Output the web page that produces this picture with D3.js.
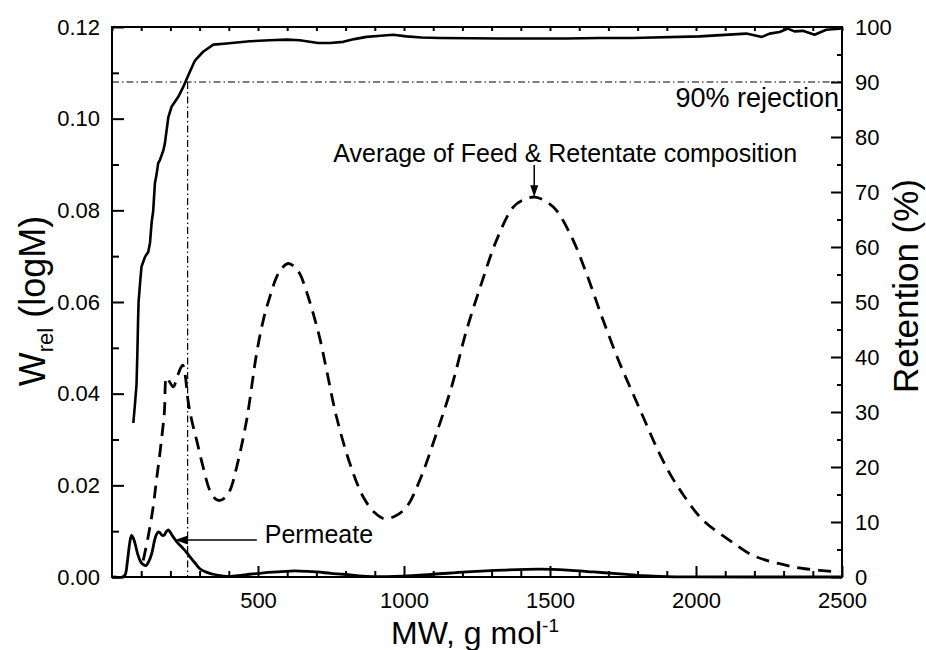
<!DOCTYPE html>
<html>
<head>
<meta charset="utf-8">
<script src="https://cdn.jsdelivr.net/npm/d3@7"></script>
<style>
  html, body { margin: 0; padding: 0; background: #fff; }
  svg { display: block; font-family: "Liberation Sans", Arial, sans-serif; }
</style>
</head>
<body>
<svg id="chart" width="926" height="650"></svg>
<script>
// ---------------- DATA ----------------
const xTickValues = [500, 1000, 1500, 2000, 2500];
const leftTickValues = [0, 0.02, 0.04, 0.06, 0.08, 0.10, 0.12];
const rightTickValues = [0, 10, 20, 30, 40, 50, 60, 70, 80, 90, 100];

// Retention (%) - solid, right axis
const retentionMW = [73, 78, 84, 87, 89, 91, 97, 101, 113, 124, 130, 136, 141, 147, 153, 158, 164, 176, 181, 193, 204, 227, 244, 261, 284, 312, 347, 392, 472, 540, 598, 643, 706, 746, 792, 830, 872, 920, 963, 1008, 1060, 1122, 1328, 1556, 1670, 1783, 2012, 2172, 2226, 2252, 2286, 2315, 2337, 2366, 2406, 2446, 2491, 2500];
const retentionPct = [28, 31, 35, 41, 46, 50, 54, 56.4, 58.2, 59.1, 60.7, 64.6, 66.5, 71.6, 73.3, 75.2, 75.8, 77.6, 78.8, 83.6, 85.5, 87.3, 89.1, 91.2, 93.9, 95.5, 96.8, 97.0, 97.4, 97.6, 97.7, 97.6, 97.1, 97.1, 97.3, 97.8, 98.2, 98.4, 98.6, 98.3, 98.1, 98.0, 97.9, 97.9, 98.0, 98.0, 98.3, 98.8, 98.2, 98.8, 99.1, 99.7, 99.2, 99.3, 98.6, 99.5, 99.7, 99.8];

// Average of Feed & Retentate composition - dashed, left axis
const averageMW = [107, 125, 141, 152, 164, 179, 187, 198, 210, 225, 242, 262, 273, 290, 312, 335, 355, 370, 385, 404, 427, 461, 495, 518, 540, 564, 585, 604, 625, 643, 665, 689, 712, 735, 769, 815, 860, 900, 934, 970, 1009, 1054, 1111, 1163, 1214, 1265, 1317, 1374, 1410, 1448, 1485, 1522, 1579, 1625, 1682, 1739, 1784, 1824, 1864, 1910, 1961, 2024, 2115, 2195, 2286, 2372, 2491];
const averageW = [0.0036, 0.0092, 0.0153, 0.021, 0.027, 0.0357, 0.0436, 0.0425, 0.0415, 0.044, 0.0462, 0.0378, 0.0342, 0.0298, 0.024, 0.0189, 0.0170, 0.0167, 0.0172, 0.0189, 0.024, 0.0342, 0.0487, 0.056, 0.061, 0.0655, 0.0676, 0.0684, 0.0677, 0.0662, 0.0625, 0.0575, 0.052, 0.0451, 0.0349, 0.0247, 0.0175, 0.0140, 0.0127, 0.0133, 0.0153, 0.0211, 0.0313, 0.0415, 0.0538, 0.064, 0.0735, 0.0807, 0.0823, 0.0829, 0.0820, 0.08, 0.0735, 0.0662, 0.0560, 0.0466, 0.04, 0.0342, 0.0284, 0.0226, 0.0175, 0.0124, 0.008, 0.0047, 0.0029, 0.0018, 0.0011];

// Permeate - solid, left axis
const permeateMW = [0, 35, 45, 52, 58, 63, 67, 73, 79, 88, 96, 105, 116, 126, 136, 144, 151, 158, 164, 171, 178, 186, 193, 200, 210, 227, 244, 255, 267, 285, 301, 325, 347, 370, 392, 430, 472, 520, 564, 610, 643, 700, 750, 792, 840, 872, 940, 996, 1100, 1214, 1340, 1465, 1560, 1650, 1739, 1820, 1898, 2000, 2200, 2500];
const permeateW = [0, 0, 0.0005, 0.003, 0.0062, 0.0083, 0.0091, 0.0085, 0.0073, 0.005, 0.0036, 0.0028, 0.0025, 0.0034, 0.0051, 0.0075, 0.0091, 0.0098, 0.0097, 0.0091, 0.0091, 0.0099, 0.0103, 0.0097, 0.0087, 0.0073, 0.0062, 0.0054, 0.0044, 0.003, 0.0018, 0.0010, 0.0006, 0.0003, 0.00015, 0.0003, 0.0006, 0.0009, 0.0011, 0.0013, 0.0013, 0.0011, 0.0008, 0.0006, 0.0003, 0.00015, 0.0001, 0.0002, 0.0006, 0.0011, 0.0015, 0.0017, 0.0015, 0.0011, 0.0007, 0.0003, 0.0001, 0.00003, 0, 0];

// Reference lines / annotations (data units)
const rejectionLevel = 90;      // % retention
const cutoffMW = 259;           // MW at 90% rejection

// ---------------- LAYOUT ----------------
const svg = d3.select("#chart");
const margin = {left: 112, right: 84, top: 27, bottom: 73};
const W = 926, H = 650;
const x0 = margin.left, x1 = W - margin.right, y0 = H - margin.bottom, y1 = margin.top;

const x = d3.scaleLinear().domain([0, 2500]).range([x0, x1]);
const yL = d3.scaleLinear().domain([0, 0.12]).range([y0, y1]);
const yR = d3.scaleLinear().domain([0, 100]).range([y0, y1]);

const tickFont = 22;

// minor ticks
const xMinor = d3.range(0, 2501, 100).filter(v => v % 500 !== 0);
const xAll = d3.range(0, 2501, 100);
const yLMinor = d3.range(0.01, 0.12, 0.02);
const yRMinor = d3.range(5, 100, 10);

function styleAxis(g) {
  g.selectAll("path.domain").remove();
  g.selectAll("line").attr("stroke", "#000").attr("stroke-width", 2);
  g.selectAll("text").attr("fill", "#000").style("font-size", tickFont + "px")
    .style("font-family", '"Liberation Sans", Arial, sans-serif');
}

// bottom axis
svg.append("g").attr("transform", `translate(0,${y0})`)
  .call(d3.axisBottom(x).tickValues(xTickValues).tickSize(-11).tickPadding(15).tickFormat(d3.format("d")))
  .call(styleAxis);
svg.append("g").attr("transform", `translate(0,${y0})`)
  .call(d3.axisBottom(x).tickValues(xMinor).tickSize(-6).tickFormat(""))
  .call(styleAxis);
// top axis
svg.append("g").attr("transform", `translate(0,${y1})`)
  .call(d3.axisTop(x).tickValues(xAll).tickSize(-4).tickFormat(""))
  .call(styleAxis);

// left axis
svg.append("g").attr("transform", `translate(${x0},0)`)
  .call(d3.axisLeft(yL).tickValues(leftTickValues).tickSize(-12).tickPadding(12).tickFormat(d3.format(".2f")))
  .call(styleAxis);
svg.append("g").attr("transform", `translate(${x0},0)`)
  .call(d3.axisLeft(yL).tickValues(yLMinor).tickSize(-7).tickFormat(""))
  .call(styleAxis);

// right axis
svg.append("g").attr("transform", `translate(${x1},0)`)
  .call(d3.axisRight(yR).tickValues(rightTickValues).tickSize(-11).tickPadding(13).tickFormat(d3.format("d")))
  .call(styleAxis);
svg.append("g").attr("transform", `translate(${x1},0)`)
  .call(d3.axisRight(yR).tickValues(yRMinor).tickSize(-5).tickFormat(""))
  .call(styleAxis);

// frame
svg.append("rect").attr("x", x0).attr("y", y1).attr("width", x1 - x0).attr("height", y0 - y1)
  .attr("fill", "none").attr("stroke", "#000").attr("stroke-width", 2);

// reference dash-dot lines
svg.append("line")
  .attr("x1", x(0)).attr("x2", x(2500)).attr("y1", yR(rejectionLevel)).attr("y2", yR(rejectionLevel))
  .attr("stroke", "#000").attr("stroke-width", 1.2).attr("stroke-dasharray", "7,3,1.5,3");
svg.append("line")
  .attr("x1", x(cutoffMW)).attr("x2", x(cutoffMW)).attr("y1", yR(rejectionLevel)).attr("y2", yR(0))
  .attr("stroke", "#000").attr("stroke-width", 1.2).attr("stroke-dasharray", "7,3,1.5,3");

// curves
const retData = retentionMW.map((m, i) => [m, retentionPct[i]]);
const avgData = averageMW.map((m, i) => [m, averageW[i]]);
const perData = permeateMW.map((m, i) => [m, permeateW[i]]);

svg.append("path").datum(retData)
  .attr("d", d3.line().x(d => x(d[0])).y(d => yR(d[1])).curve(d3.curveLinear))
  .attr("fill", "none").attr("stroke", "#000").attr("stroke-width", 2.6).attr("stroke-linejoin", "round");

svg.append("path").datum(avgData)
  .attr("d", d3.line().x(d => x(d[0])).y(d => yL(d[1])).curve(d3.curveCatmullRom.alpha(0.5)))
  .attr("fill", "none").attr("stroke", "#000").attr("stroke-width", 2.8).attr("stroke-dasharray", "13,8");

svg.append("path").datum(perData)
  .attr("d", d3.line().x(d => x(d[0])).y(d => yL(d[1])).curve(d3.curveCatmullRom.alpha(0.5)))
  .attr("fill", "none").attr("stroke", "#000").attr("stroke-width", 2.8).attr("stroke-linejoin", "round");

// annotations
const annFont = 25;
svg.append("text").attr("x", x(2490)).attr("y", yR(85.5)).attr("text-anchor", "end")
  .style("font-size", "27px").text("90% rejection");

svg.append("text").attr("x", x(758)).attr("y", yL(0.0905))
  .style("font-size", annFont + "px").text("Average of Feed & Retentate composition");

// arrow to average peak
const pkX = x(1446);
svg.append("line").attr("x1", pkX).attr("x2", pkX).attr("y1", yL(0.0899)).attr("y2", yL(0.0845))
  .attr("stroke", "#000").attr("stroke-width", 1.5);
svg.append("path")
  .attr("d", `M${pkX - 4},${yL(0.0855)} L${pkX + 4},${yL(0.0855)} L${pkX},${yL(0.0829)} Z`)
  .attr("fill", "#000");

svg.append("text").attr("x", x(523)).attr("y", yL(0.0075))
  .style("font-size", annFont + "px").text("Permeate");
// arrow to permeate
const arY = yL(0.0081);
svg.append("line").attr("x1", x(496)).attr("x2", x(255)).attr("y1", arY).attr("y2", arY)
  .attr("stroke", "#000").attr("stroke-width", 1.5);
svg.append("path")
  .attr("d", `M${x(260)},${arY - 4.5} L${x(260)},${arY + 4.5} L${x(216)},${arY} Z`)
  .attr("fill", "#000");

// axis titles
const xt = svg.append("text").attr("x", 475).attr("y", 644).attr("text-anchor", "middle")
  .style("font-size", "32px");
xt.append("tspan").text("MW, g mol");
xt.append("tspan").attr("dy", -12).style("font-size", "19px").text("-1");

const ylt = svg.append("text").attr("transform", `translate(45,301) rotate(-90)`)
  .attr("text-anchor", "middle").style("font-size", "36px");
ylt.append("tspan").text("W");
ylt.append("tspan").attr("dy", 8).style("font-size", "22px").text("rel");
ylt.append("tspan").attr("dy", -8).text(" (logM)");

svg.append("text").attr("transform", `translate(918,286) rotate(-90)`)
  .attr("text-anchor", "middle").style("font-size", "35px").text("Retention (%)");
</script>
</body>
</html>
